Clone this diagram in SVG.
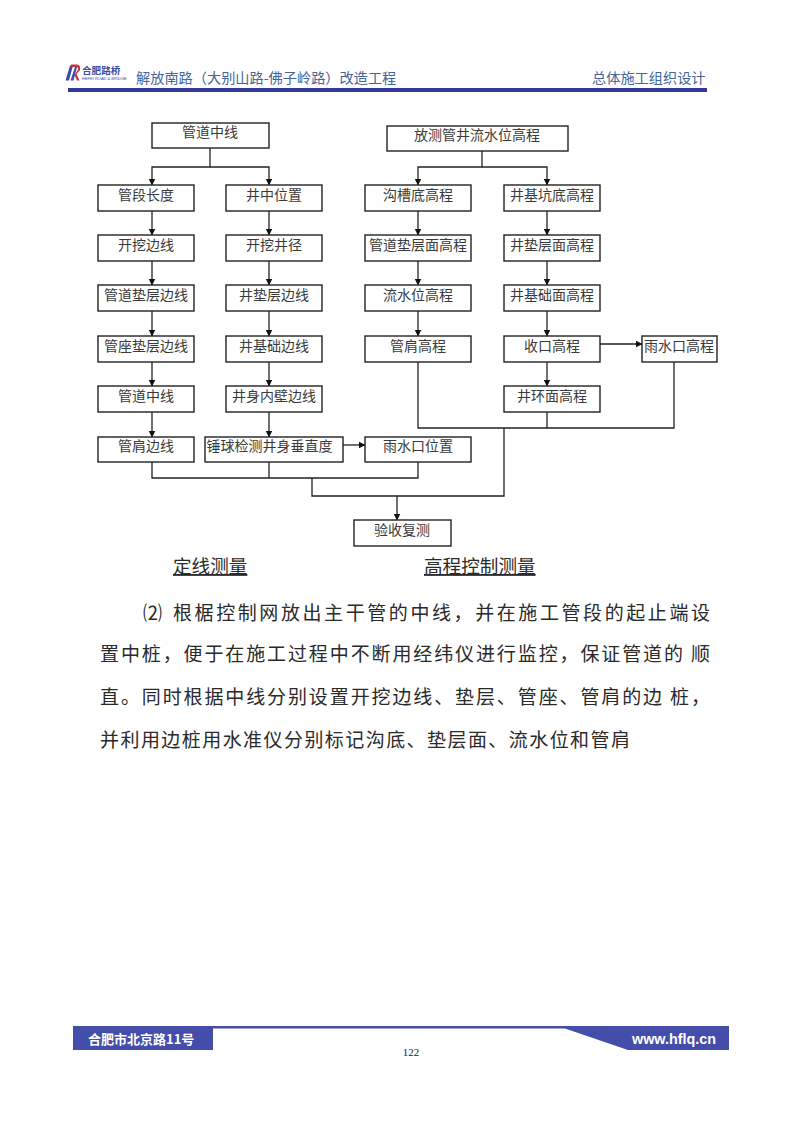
<svg xmlns="http://www.w3.org/2000/svg" width="793" height="1122" viewBox="0 0 793 1122">
<style>
.b{fill:#fff;stroke:#222;stroke-width:1.4}
.t{font-family:"Noto Sans CJK SC",sans-serif;font-size:14px;fill:#3a3a3a;text-anchor:middle}
.c{fill:none;stroke:#222;stroke-width:1.3}
.p{font-family:"Noto Sans CJK SC",serif;font-size:19px;fill:#2a2a2a}
.q{font-family:"Noto Sans CJK SC",serif;font-size:18.6px;fill:#2a2a2a;text-decoration:underline}
.h{font-family:"Noto Sans CJK SC",sans-serif;font-size:14.2px;fill:#44649a}
</style>
<defs><marker id="a" markerWidth="8" markerHeight="8" refX="6.5" refY="3.5" orient="auto" markerUnits="userSpaceOnUse"><path d="M0 0L7 3.5L0 7Z" fill="#111"/></marker></defs>
<rect width="793" height="1122" fill="#fff"/>
<g id="header">
<path d="M65.500 80.500L70 65.500H73L69 80.500ZM70.500 80.500L75 67H77L73.500 80.500Z" fill="#3a4ba5"/>
<path d="M71 64.500H77Q81 65 80 70L76.500 74L79.500 80.500H77L74.500 75L78 69.500Q78.500 67 76 67H70.500Z" fill="#c8343a"/>
<text x="82" y="74" font-family="Noto Sans CJK SC,sans-serif" font-size="9.6" font-weight="700" fill="#3a4ba5">合肥路桥</text>
<text x="82" y="80" font-family="Liberation Sans,sans-serif" font-size="4" fill="#3a4ba5">HEFEI ROAD &amp; BRIDGE</text>
<text x="136" y="83" class="h">解放南路（大别山路-佛子岭路）改造工程</text>
<text x="592" y="83" class="h">总体施工组织设计</text>
<rect x="68" y="88" width="639" height="4" fill="#32389c"/>
</g>
<g id="connectors">
<path class="c" d="M210 148V167H152V185" marker-end="url(#a)"/>
<path class="c" d="M210 167H269V185" marker-end="url(#a)"/>
<path class="c" d="M482 151V167H418V185" marker-end="url(#a)"/>
<path class="c" d="M482 167H547V185" marker-end="url(#a)"/>
<path class="c" d="M152 211V235" marker-end="url(#a)"/><path class="c" d="M152 261V285" marker-end="url(#a)"/><path class="c" d="M152 311V336" marker-end="url(#a)"/><path class="c" d="M152 362V386" marker-end="url(#a)"/><path class="c" d="M152 412V437" marker-end="url(#a)"/>
<path class="c" d="M269 211V235" marker-end="url(#a)"/><path class="c" d="M269 261V285" marker-end="url(#a)"/><path class="c" d="M269 311V336" marker-end="url(#a)"/><path class="c" d="M269 362V386" marker-end="url(#a)"/><path class="c" d="M269 412V437" marker-end="url(#a)"/>
<path class="c" d="M418 211V235" marker-end="url(#a)"/><path class="c" d="M418 261V285" marker-end="url(#a)"/><path class="c" d="M418 311V336" marker-end="url(#a)"/>
<path class="c" d="M547 211V235" marker-end="url(#a)"/><path class="c" d="M547 261V285" marker-end="url(#a)"/><path class="c" d="M547 311V336" marker-end="url(#a)"/><path class="c" d="M547 362V386" marker-end="url(#a)"/>
<path class="c" d="M600 344H642" marker-end="url(#a)"/>
<path class="c" d="M343 445H365" marker-end="url(#a)"/>
<path class="c" d="M418 362V428H674V362M547 412V428M504 428V496H312V478M152 462V478H418V462M269 462V478"/>
<path class="c" d="M397 496V520" marker-end="url(#a)"/>
</g>
<g id="n1"><rect class="b" x="152" y="123" width="117" height="25"/><text class="t" x="210" y="137">管道中线</text></g>
<g id="n2"><rect class="b" x="387" y="126" width="181" height="25"/><text class="t" x="477" y="140">放测管井流水位高程</text></g>
<g id="n3"><rect class="b" x="98" y="185" width="96" height="26"/><text class="t" x="146" y="200">管段长度</text></g>
<g id="n4"><rect class="b" x="226" y="185" width="96" height="26"/><text class="t" x="274" y="200">井中位置</text></g>
<g id="n5"><rect class="b" x="365" y="185" width="106" height="26"/><text class="t" x="418" y="200">沟槽底高程</text></g>
<g id="n6"><rect class="b" x="504" y="185" width="96" height="26"/><text class="t" x="552" y="200">井基坑底高程</text></g>
<g id="n7"><rect class="b" x="98" y="235" width="96" height="26"/><text class="t" x="146" y="250">开挖边线</text></g>
<g id="n8"><rect class="b" x="226" y="235" width="96" height="26"/><text class="t" x="274" y="250">开挖井径</text></g>
<g id="n9"><rect class="b" x="365" y="235" width="106" height="26"/><text class="t" x="418" y="250">管道垫层面高程</text></g>
<g id="n10"><rect class="b" x="504" y="235" width="96" height="26"/><text class="t" x="552" y="250">井垫层面高程</text></g>
<g id="n11"><rect class="b" x="98" y="285" width="96" height="26"/><text class="t" x="146" y="300">管道垫层边线</text></g>
<g id="n12"><rect class="b" x="226" y="285" width="96" height="26"/><text class="t" x="274" y="300">井垫层边线</text></g>
<g id="n13"><rect class="b" x="365" y="285" width="106" height="26"/><text class="t" x="418" y="300">流水位高程</text></g>
<g id="n14"><rect class="b" x="504" y="285" width="96" height="26"/><text class="t" x="552" y="300">井基础面高程</text></g>
<g id="n15"><rect class="b" x="98" y="336" width="96" height="26"/><text class="t" x="146" y="351">管座垫层边线</text></g>
<g id="n16"><rect class="b" x="226" y="336" width="96" height="26"/><text class="t" x="274" y="351">井基础边线</text></g>
<g id="n17"><rect class="b" x="365" y="336" width="106" height="26"/><text class="t" x="418" y="351">管肩高程</text></g>
<g id="n18"><rect class="b" x="504" y="336" width="96" height="26"/><text class="t" x="552" y="351">收口高程</text></g>
<g id="n19"><rect class="b" x="642" y="336" width="75" height="26"/><text class="t" x="679" y="351">雨水口高程</text></g>
<g id="n20"><rect class="b" x="98" y="386" width="96" height="26"/><text class="t" x="146" y="401">管道中线</text></g>
<g id="n21"><rect class="b" x="226" y="386" width="96" height="26"/><text class="t" x="274" y="401">井身内壁边线</text></g>
<g id="n22"><rect class="b" x="504" y="386" width="96" height="26"/><text class="t" x="552" y="401">井环面高程</text></g>
<g id="n23"><rect class="b" x="98" y="437" width="96" height="25"/><text class="t" x="146" y="451">管肩边线</text></g>
<g id="n24"><rect class="b" x="205" y="437" width="138" height="25"/><text class="t" x="269.500" y="451">锤球检测井身垂直度</text></g>
<g id="n25"><rect class="b" x="365" y="437" width="106" height="25"/><text class="t" x="418" y="451">雨水口位置</text></g>
<g id="n26"><rect class="b" x="354" y="520" width="97" height="26"/><text class="t" x="402" y="535">验收复测</text></g>
<g id="captions">
<text x="173" y="573" class="q">定线测量</text>
<text x="424" y="573" class="q">高程控制测量</text>
</g>
<g id="body">
<text x="143" y="620" class="p">⑵</text>
<text x="173" y="620" class="p" textLength="537" lengthAdjust="spacing">根椐控制网放出主干管的中线，并在施工管段的起止端设</text>
<text x="100" y="661" class="p" textLength="610" lengthAdjust="spacing">置中桩，便于在施工过程中不断用经纬仪进行监控，保证管道的 顺</text>
<text x="100" y="704" class="p" textLength="610" lengthAdjust="spacing">直。同时根据中线分别设置开挖边线、垫层、管座、管肩的边 桩，</text>
<text x="100" y="747" class="p" textLength="530" lengthAdjust="spacing">并利用边桩用水准仪分别标记沟底、垫层面、流水位和管肩</text>
</g>
<g id="footer">
<path d="M73 1026H729V1050H628L565 1028.500H213V1050H73Z" fill="#454dab"/>
<text x="88" y="1044" font-family="Noto Sans CJK SC,sans-serif" font-size="13" font-weight="700" fill="#fff">合肥市北京路11号</text>
<text x="632" y="1044" font-family="Liberation Sans,sans-serif" font-size="14.500" font-weight="700" fill="#fff" textLength="84" lengthAdjust="spacingAndGlyphs">www.hflq.cn</text>
<text x="411" y="1056" font-family="Liberation Serif,serif" font-size="11" fill="#222" text-anchor="middle">122</text>
</g>
</svg>
